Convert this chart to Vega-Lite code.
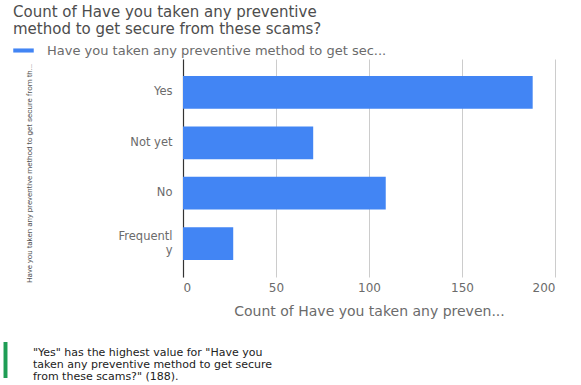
{
  "$schema": "https://vega.github.io/schema/vega-lite/v6.json",
  "autosize": {"type": "none"},
  "width": 372,
  "height": 218,
  "padding": {"left": 183, "top": 59, "right": 26, "bottom": 108},
  "background": "#ffffff",
  "title": {
    "text": ["Count of Have you taken any preventive", "method to get secure from these scams?"],
    "anchor": "start",
    "frame": "group",
    "dx": -170,
    "dy": 1,
    "font": "DejaVu Sans",
    "fontSize": 15,
    "fontWeight": "normal",
    "lineHeight": 17.5,
    "color": "#4d4d4d"
  },
  "data": {
    "values": [
      {"answer": "Yes", "count": 188, "question": "Have you taken any preventive method to get secure from these scams?"},
      {"answer": "Not yet", "count": 70, "question": "Have you taken any preventive method to get secure from these scams?"},
      {"answer": "No", "count": 109, "question": "Have you taken any preventive method to get secure from these scams?"},
      {"answer": "Frequently", "count": 27, "question": "Have you taken any preventive method to get secure from these scams?"}
    ]
  },
  "mark": {"type": "bar"},
  "encoding": {
    "y": {
      "field": "answer",
      "type": "nominal",
      "sort": ["Yes", "Not yet", "No", "Frequently"],
      "scale": {"paddingInner": 0.35, "paddingOuter": 0.34},
      "axis": {
        "title": "Have you taken any preventive method to get secure from th...",
        "titleFont": "Roboto",
        "titleFontSize": 8,
        "titleFontWeight": "normal",
        "titleColor": "#555555",
        "titleBaseline": "middle",
        "titleX": -154,
        "titleY": 114,
        "labelFont": "DejaVu Sans",
        "labelFontSize": 11.5,
        "labelColor": "#6b6b6b",
        "labelPadding": 11,
        "labelLineHeight": 14,
        "labelExpr": "length(datum.label) > 9 ? [slice(datum.label, 0, 9), slice(datum.label, 9)] : datum.label",
        "labelOffset": {"condition": {"test": "length(datum.value) > 9", "value": -7}, "value": 0},
        "ticks": false,
        "tickSize": 0,
        "domain": true,
        "domainColor": "#333333",
        "domainWidth": 1.2,
        "grid": false
      }
    },
    "x": {
      "field": "count",
      "type": "quantitative",
      "scale": {"domain": [0, 200], "nice": false},
      "axis": {
        "values": [0, 50, 100, 150, 200],
        "title": "Count of Have you taken any preven...",
        "titleFont": "DejaVu Sans",
        "titleFontSize": 14,
        "titleFontWeight": "normal",
        "titleColor": "#6b6b6b",
        "titlePadding": 11,
        "labelFont": "DejaVu Sans",
        "labelFontSize": 12,
        "labelColor": "#6b6b6b",
        "labelPadding": 5,
        "ticks": false,
        "tickSize": 0,
        "domain": false,
        "grid": true,
        "gridColor": "#cccccc",
        "gridWidth": 1
      }
    },
    "color": {
      "field": "question",
      "type": "nominal",
      "scale": {"range": ["#4285f4"]},
      "legend": {
        "title": null,
        "orient": "none",
        "legendX": -170,
        "legendY": -19,
        "padding": 0,
        "symbolType": "M-1,-0.2H1V0.2H-1Z",
        "symbolSize": 420,
        "symbolStrokeWidth": 0,
        "labelFont": "DejaVu Sans",
        "labelFontSize": 13,
        "labelColor": "#6b6b6b",
        "labelOffset": 13,
        "labelLimit": 0,
        "labelExpr": "truncate(datum.label, 50, 'right', '...')"
      }
    },
    "strokeDash": {
      "datum": "\"Yes\" has the highest value for \"Have you\ntaken any preventive method to get secure\nfrom these scams?\" (188).",
      "type": "nominal",
      "scale": {"range": [[1, 0]]},
      "legend": {
        "title": null,
        "orient": "none",
        "legendX": -195.5,
        "legendY": 276,
        "padding": 0,
        "symbolType": "M-0.11,-0.611H0.11V1.389H-0.11Z",
        "symbolSize": 1296,
        "symbolFillColor": "#1e9d55",
        "symbolStrokeWidth": 0,
        "labelFont": "DejaVu Sans",
        "labelFontSize": 11,
        "labelColor": "#222222",
        "labelOffset": 9.5,
        "labelLimit": 0,
        "labelExpr": "split(datum.label, '\\n')",
        "encode": {"labels": {"update": {"lineHeight": {"value": 12}}}}
      }
    }
  },
  "config": {
    "view": {"stroke": null}
  }
}
